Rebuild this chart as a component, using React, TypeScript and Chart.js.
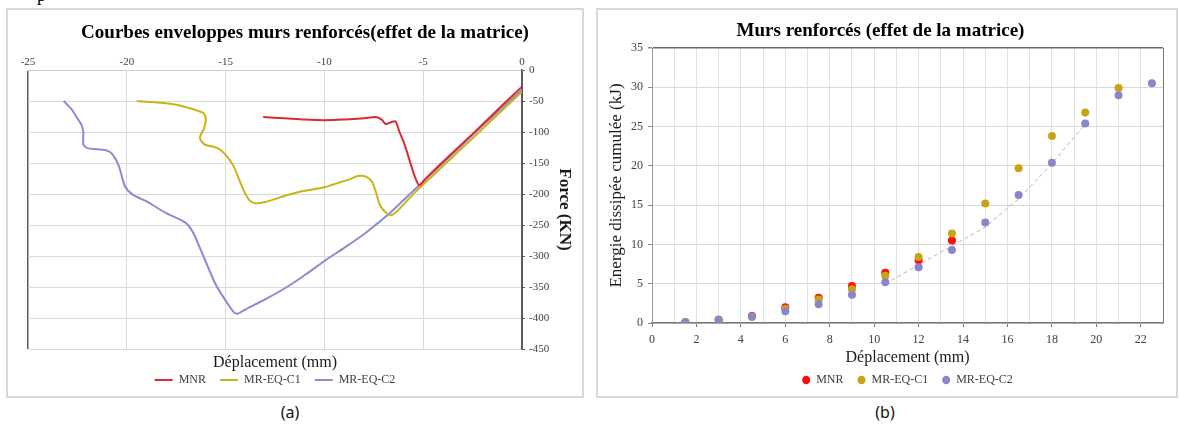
import React, { useEffect, useRef } from 'react';
import { Chart, registerables } from 'chart.js';

Chart.register(...registerables);

const SERIF = '"Liberation Serif", "Times New Roman", Times, serif';

// ---------------- Panel (a): envelope curves ----------------
const A_TITLE = 'Courbes enveloppes murs renforcés(effet de la matrice)';
const A_X_TITLE = 'Déplacement (mm)';
const A_Y_TITLE = 'Force (KN)';
const SERIES_NAMES = ['MNR', 'MR-EQ-C1', 'MR-EQ-C2'];

const MNR_DISP = [-13.1, -12.0, -11.0, -10.0, -9.0, -8.0, -7.4, -7.1, -6.9, -6.6, -6.4, -6.2, -6.0, -5.8, -5.6, -5.4, -5.2, -4.9, -4.0, -3.0, -2.0, -1.0, 0];
const MNR_FORCE = [-76, -78, -80, -81, -80, -78, -76, -80, -87, -84, -83, -100, -115, -134, -155, -174, -186, -176, -148, -118, -88, -57, -27];

const C1_DISP = [-19.5, -18.3, -17.5, -16.9, -16.4, -16.1, -16.0, -16.1, -16.3, -16.2, -16.0, -15.4, -15.0, -14.6, -14.1, -13.8, -13.5, -13.0, -12.1, -11.2, -10.0, -9.3, -8.7, -8.3, -7.9, -7.6, -7.4, -7.2, -6.9, -6.6, -6.3, -5.4, -4.5, -3.5, -2.5, -1.5, -0.5, 0];
const C1_FORCE = [-50, -53, -56, -61, -66, -70, -80, -95, -108, -116, -121, -126, -137, -155, -193, -210, -215, -213, -204, -196, -189, -182, -176, -171, -172, -180, -196, -217, -230, -234, -227, -197, -170, -140, -110, -80, -50, -35];

const C2_DISP = [-23.2, -22.8, -22.5, -22.3, -22.2, -22.2, -22.0, -21.5, -21.0, -20.7, -20.4, -20.1, -19.7, -19.0, -18.0, -17.2, -16.9, -16.6, -16.3, -15.9, -15.5, -15.0, -14.6, -14.4, -14.1, -13.5, -13.0, -12.0, -11.0, -10.0, -9.0, -8.0, -7.3, -6.8, -6.0, -5.2, -4.0, -3.0, -2.0, -1.0, 0];
const C2_FORCE = [-50, -63, -78, -88, -100, -120, -126, -128, -130, -137, -155, -187, -201, -212, -231, -243, -250, -265, -287, -317, -346, -372, -390, -393, -388, -378, -370, -352, -331, -308, -287, -265, -247, -234, -210, -186, -150, -120, -90, -61, -32];

// ---------------- Panel (b): cumulated dissipated energy ----------------
const B_TITLE = 'Murs renforcés (effet de la matrice)';
const B_X_TITLE = 'Déplacement (mm)';
const B_Y_TITLE = 'Energie dissipée cumulée (kJ)';
const B_DISP = [1.5, 3, 4.5, 6, 7.5, 9, 10.5, 12, 13.5, 15, 16.5, 18, 19.5, 21, 22.5];
const MNR_ENERGY = [0.1, 0.4, 0.9, 2.0, 3.2, 4.7, 6.4, 8.0, 10.5];
const C1_ENERGY = [0.1, 0.4, 0.8, 1.8, 3.0, 4.3, 6.0, 8.4, 11.4, 15.2, 19.7, 23.8, 26.8, 29.9];
const C2_ENERGY = [0.1, 0.4, 0.8, 1.5, 2.4, 3.6, 5.2, 7.1, 9.3, 12.8, 16.3, 20.4, 25.4, 29.0, 30.5];
const TREND_DISP = [10.5, 12, 13.5, 15, 16.5, 18, 19.5];
const TREND_ENERGY = [5.0, 7.4, 9.8, 12.2, 15.8, 20.3, 25.3];

const RED_A = '#dc2a33';
const YEL_A = '#c9b418';
const BLU_A = '#8d8ad0';
const RED_B = '#ff0d0d';
const YEL_B = '#c8a414';
const BLU_B = '#8a86c8';

const pts = (xs: number[], ys: number[]) => ys.map((y, i) => ({ x: xs[i], y }));

const spacedLabels = (chart: any) => {
  const items = Chart.defaults.plugins.legend.labels
    .generateLabels(chart)
    .filter((it: any) => it.text !== 'trend')
    .sort((a: any, b: any) => a.datasetIndex - b.datasetIndex);
  return items.map((it: any, i: number) => (i < items.length - 1 ? { ...it, text: it.text + '    ' } : it));
};

function configA(): any {
  return {
    type: 'line',
    data: {
      datasets: [
        { label: SERIES_NAMES[0], data: pts(MNR_DISP, MNR_FORCE), borderColor: RED_A, backgroundColor: RED_A },
        { label: SERIES_NAMES[1], data: pts(C1_DISP, C1_FORCE), borderColor: YEL_A, backgroundColor: YEL_A },
        { label: SERIES_NAMES[2], data: pts(C2_DISP, C2_FORCE), borderColor: BLU_A, backgroundColor: BLU_A },
      ].map((d) => ({ ...d, borderWidth: 2, pointRadius: 0, tension: 0.25, fill: false })),
    },
    options: {
      animation: false,
      responsive: false,
      devicePixelRatio: 1,
      layout: { padding: { left: 20, right: 0, top: 0, bottom: 0 } },
      plugins: {
        tooltip: { enabled: false },
        title: {
          display: true,
          text: A_TITLE,
          color: '#000',
          font: { family: SERIF, size: 19, weight: 'bold' },
          padding: { top: 11.6, bottom: 11.6 },
        },
        legend: {
          position: 'bottom',
          fullSize: false,
          labels: {
            usePointStyle: true,
            pointStyle: 'line',
            pointStyleWidth: 18,
            padding: 2,
            color: '#404040',
            font: { family: SERIF, size: 12 },
            generateLabels: spacedLabels,
          },
        },
      },
      scales: {
        x: {
          type: 'linear',
          position: 'top',
          min: -25,
          max: 0,
          ticks: { stepSize: 5, padding: 1, color: '#404040', font: { family: SERIF, size: 11 } },
          grid: {
            drawTicks: false,
            color: (c: any) => (c.tick && (c.tick.value === -25 || c.tick.value === 0) ? '#5a5a5a' : '#dadada'),
            lineWidth: (c: any) => (c.tick && c.tick.value === -25 ? 1.5 : 1),
          },
          border: { color: '#d0d0d0' },
          afterFit: (s: any) => {
            s.height = 14;
          },
        },
        x2: {
          type: 'linear',
          position: 'bottom',
          min: -25,
          max: 0,
          ticks: { display: false },
          grid: { display: false, drawTicks: false },
          border: { display: false },
          title: {
            display: true,
            text: A_X_TITLE,
            color: '#1a1a1a',
            font: { family: SERIF, size: 16 },
            padding: { top: 0, bottom: 0 },
          },
          afterFit: (s: any) => {
            s.height = 23;
          },
        },
        y: {
          type: 'linear',
          position: 'right',
          min: -450,
          max: 0,
          ticks: { stepSize: 50, padding: 4, color: '#404040', font: { family: SERIF, size: 11 } },
          grid: { color: '#dadada', tickLength: 3, tickColor: '#5a5a5a' },
          border: { color: '#5a5a5a', width: 1.5 },
          title: {
            display: true,
            text: A_Y_TITLE,
            color: '#1a1a1a',
            font: { family: SERIF, size: 17, weight: 'bold' },
            padding: { top: 7, bottom: 0 },
          },
          afterFit: (s: any) => {
            s.width = 60;
          },
        },
      },
    },
  };
}

function configB(): any {
  const scatter = (label: string, xs: number[], ys: number[], color: string, order: number) => ({
    type: 'scatter',
    label,
    data: pts(xs, ys),
    backgroundColor: color,
    borderColor: color,
    borderWidth: 0,
    pointRadius: 4,
    pointHoverRadius: 4,
    order,
  });
  return {
    type: 'scatter',
    data: {
      datasets: [
        scatter(SERIES_NAMES[0], B_DISP, MNR_ENERGY, RED_B, 3),
        scatter(SERIES_NAMES[1], B_DISP, C1_ENERGY, YEL_B, 2),
        scatter(SERIES_NAMES[2], B_DISP, C2_ENERGY, BLU_B, 1),
        {
          type: 'line',
          label: 'trend',
          data: pts(TREND_DISP, TREND_ENERGY),
          borderColor: '#b4b4c2',
          backgroundColor: '#b4b4c2',
          borderWidth: 1,
          borderDash: [4, 3],
          pointRadius: 0,
          fill: false,
          order: 10,
        },
      ],
    },
    options: {
      animation: false,
      responsive: false,
      devicePixelRatio: 1,
      layout: { padding: { left: 0, right: 13, top: 0, bottom: 0 } },
      plugins: {
        tooltip: { enabled: false },
        title: {
          display: true,
          text: B_TITLE,
          color: '#000',
          font: { family: SERIF, size: 19, weight: 'bold' },
          padding: { top: 9.6, bottom: 5.6 },
        },
        legend: {
          position: 'bottom',
          fullSize: false,
          labels: {
            usePointStyle: true,
            pointStyle: 'circle',
            boxHeight: 6,
            pointStyleWidth: 8,
            padding: 2,
            color: '#404040',
            font: { family: SERIF, size: 12 },
            generateLabels: spacedLabels,
          },
        },
      },
      scales: {
        x: {
          type: 'linear',
          position: 'bottom',
          min: 0,
          max: 23,
          ticks: {
            stepSize: 1,
            autoSkip: false,
            maxRotation: 0,
            padding: 6,
            color: '#404040',
            font: { family: SERIF, size: 12 },
            callback: (v: any) => (Number(v) % 2 === 0 ? String(v) : ''),
          },
          grid: {
            color: (c: any) => (c.tick && c.tick.value === 23 ? '#7a7a7a' : '#e2e2e2'),
            tickLength: 4,
            tickColor: (c: any) => (c.tick && c.tick.value % 2 === 0 ? '#7a7a7a' : 'rgba(0,0,0,0)'),
          },
          border: { color: '#7a7a7a', width: 1.5 },
          title: {
            display: true,
            text: B_X_TITLE,
            color: '#1a1a1a',
            font: { family: SERIF, size: 16 },
            padding: { top: 0, bottom: 5 },
          },
          afterFit: (s: any) => {
            s.height = 49;
          },
        },
        y: {
          type: 'linear',
          position: 'left',
          min: 0,
          max: 35,
          ticks: { stepSize: 5, padding: 5, color: '#404040', font: { family: SERIF, size: 12 } },
          grid: {
            color: (c: any) => (c.tick && c.tick.value === 35 ? '#6a6a6a' : '#d9d9d9'),
            lineWidth: (c: any) => (c.tick && c.tick.value === 35 ? 1.5 : 1),
            tickLength: 4,
            tickColor: '#8a8a8a',
          },
          border: { color: '#9a9a9a' },
          title: {
            display: true,
            text: B_Y_TITLE,
            color: '#1a1a1a',
            font: { family: SERIF, size: 17 },
            padding: { top: 8, bottom: 0 },
          },
          afterFit: (s: any) => {
            s.width = 54;
          },
        },
      },
    },
  };
}

const boxStyle = (left: number, width: number): React.CSSProperties => ({
  position: 'absolute',
  left,
  top: 8,
  width,
  height: 390,
  border: '2px solid #d9d9d9',
  boxSizing: 'border-box',
  background: '#fff',
});

const captionStyle = (cx: number): React.CSSProperties => ({
  position: 'absolute',
  left: cx - 30,
  width: 60,
  top: 401,
  textAlign: 'center',
  fontFamily: '"Noto Sans", "Open Sans", sans-serif',
  fontSize: 16,
  lineHeight: '22px',
  color: '#111',
});

export default function App() {
  const refA = useRef<HTMLCanvasElement>(null);
  const refB = useRef<HTMLCanvasElement>(null);

  useEffect(() => {
    const a = new Chart(refA.current as HTMLCanvasElement, configA());
    const b = new Chart(refB.current as HTMLCanvasElement, configB());
    return () => {
      a.destroy();
      b.destroy();
    };
  }, []);

  return (
    <div
      style={{
        position: 'fixed',
        left: 0,
        top: 0,
        width: 1180,
        height: 432,
        background: '#fff',
        overflow: 'hidden',
      }}
    >
      <div
        style={{
          position: 'absolute',
          left: 37,
          top: -15,
          fontFamily: SERIF,
          fontSize: 18,
          lineHeight: '20px',
          color: '#000',
        }}
      >
        p
      </div>
      <div style={boxStyle(6, 578)}>
        <canvas ref={refA} width={574} height={386} style={{ display: 'block', width: 574, height: 386 }} />
      </div>
      <div style={boxStyle(596, 582)}>
        <canvas ref={refB} width={578} height={386} style={{ display: 'block', width: 578, height: 386 }} />
      </div>
      <div style={captionStyle(290)}>(a)</div>
      <div style={captionStyle(885)}>(b)</div>
    </div>
  );
}
